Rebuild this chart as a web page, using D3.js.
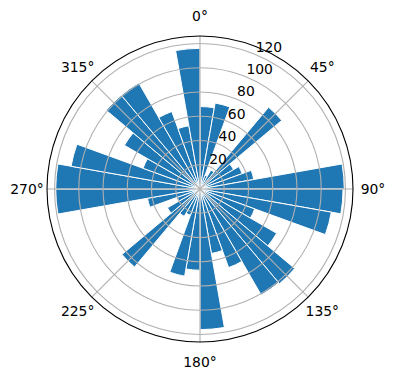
<!DOCTYPE html>
<html>
<head>
<meta charset="utf-8">
<script src="https://cdn.jsdelivr.net/npm/d3@7"></script>
<style>
  body { margin: 0; background: white; }
  svg text { font-family: "DejaVu Sans", sans-serif; }
</style>
</head>
<body>
<div id="viz_area"></div>
<script>
var width = 396
var height = 380

// bins of 10 degrees, starting at 0 deg (top), clockwise
var binStart = d3.range(0, 360, 10)
var counts = [68, 72, 12, 18, 88, 32, 37, 45, 119,
  118, 110, 48, 73, 102, 101, 69, 54, 116,
  67, 73, 23, 26, 84, 31, 20, 44, 119,
  119, 108, 50, 72, 101, 101, 68, 53, 116]
var radialTicks = [20, 40, 60, 80, 100, 120]
var angleTicks = [0, 45, 90, 135, 180, 225, 270, 315]

var cx = 200, cy = 189
var R = 153

var svg = d3.select("#viz_area")
  .append("svg")
  .attr("width", width)
  .attr("height", height)
  .style("background-color", "white");

var g = svg.append("g").attr("transform", `translate(${cx},${cy})`)

var scR = d3.scaleLinear()
  .domain([0, 126.2])
  .range([0, R])

var scA = d3.scaleLinear()
  .domain([0, 360])
  .range([0, 2 * Math.PI])

var arc = d3.arc()
  .innerRadius(0)
  .outerRadius(d => scR(d.v))
  .startAngle(d => scA(d.a))
  .endAngle(d => scA(d.a + 10))

var bins = binStart.map((a, i) => ({ a: a, v: counts[i] }))

// bars
g.append("g")
  .selectAll("path")
  .data(bins)
  .enter()
  .append("path")
  .attr("d", arc)
  .attr("fill", "#1f77b4")
  .attr("stroke", "white")
  .attr("stroke-width", 1)

// grid on top of the bars, like matplotlib
var grid = g.append("g")
  .attr("fill", "none")
  .attr("stroke", "#b0b0b0")
  .attr("stroke-width", 1.1)

grid.selectAll("circle")
  .data(radialTicks)
  .enter().append("circle")
  .attr("r", d => scR(d))

grid.selectAll("line")
  .data(angleTicks)
  .enter().append("line")
  .attr("x1", 0)
  .attr("y1", 0)
  .attr("x2", d => R * Math.sin(scA(d)))
  .attr("y2", d => -R * Math.cos(scA(d)))

// outer spine
g.append("circle")
  .attr("r", R)
  .attr("fill", "none")
  .attr("stroke", "black")
  .attr("stroke-width", 1.1)

// angle labels
g.append("g")
  .selectAll("text")
  .data(angleTicks)
  .enter().append("text")
  .attr("x", d => (R + 20) * Math.sin(scA(d)))
  .attr("y", d => -(R + 20) * Math.cos(scA(d)))
  .attr("text-anchor", "middle")
  .attr("dominant-baseline", "central")
  .style("font-size", "13.9px")
  .attr("fill", "black")
  .text(d => d + "°")

// radial labels along 22.5 deg
var labA = scA(22.5)
g.append("g")
  .selectAll("text")
  .data(radialTicks)
  .enter().append("text")
  .attr("x", d => scR(d) * Math.sin(labA))
  .attr("y", d => -scR(d) * Math.cos(labA) - 3)
  .attr("text-anchor", "start")
  .style("font-size", "13.9px")
  .attr("fill", "black")
  .text(d => d)
</script>
</body>
</html>
